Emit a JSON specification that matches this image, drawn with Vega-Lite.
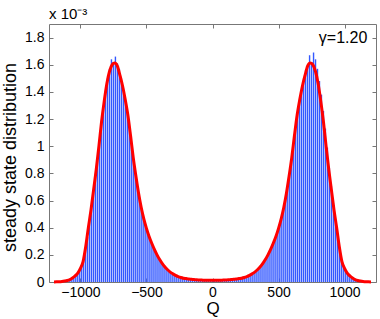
{
  "$schema": "https://vega.github.io/schema/vega-lite/v6.json",
  "width": 327,
  "height": 258,
  "autosize": "none",
  "padding": {"left": 49, "top": 24, "right": 4, "bottom": 37},
  "background": "white",
  "config": {
    "font": "Liberation Sans",
    "view": {"stroke": "#777777", "strokeWidth": 1},
    "axis": {
      "domain": false,
      "grid": false,
      "tickColor": "#777777",
      "tickSize": -4,
      "labelColor": "black",
      "labelFont": "Liberation Sans",
      "labelFontSize": 14,
      "titleFont": "Liberation Sans",
      "titleFontWeight": "normal",
      "titleColor": "black"
    }
  },
  "title": {
    "text": "x 10⁻³",
    "anchor": "start",
    "frame": "group",
    "offset": 2,
    "fontSize": 15,
    "fontWeight": "normal",
    "font": "Liberation Sans",
    "color": "black"
  },
  "datasets": {
    "bars": [
      {"q": -1110, "v": 0.000006}, {"q": -1095, "v": 0.000010}, {"q": -1080, "v": 0.000016}, {"q": -1065, "v": 0.000026},
      {"q": -1050, "v": 0.000036}, {"q": -1035, "v": 0.000050}, {"q": -1020, "v": 0.000068}, {"q": -1005, "v": 0.000090},
      {"q": -990, "v": 0.000120}, {"q": -975, "v": 0.000170}, {"q": -960, "v": 0.000250}, {"q": -945, "v": 0.000330},
      {"q": -930, "v": 0.000450}, {"q": -915, "v": 0.000570}, {"q": -900, "v": 0.000690}, {"q": -885, "v": 0.000800},
      {"q": -870, "v": 0.000920}, {"q": -855, "v": 0.001050}, {"q": -840, "v": 0.001190}, {"q": -825, "v": 0.001300},
      {"q": -810, "v": 0.001410}, {"q": -795, "v": 0.001500}, {"q": -780, "v": 0.001570}, {"q": -765, "v": 0.001640},
      {"q": -750, "v": 0.001620}, {"q": -735, "v": 0.001660}, {"q": -720, "v": 0.001610}, {"q": -705, "v": 0.001570},
      {"q": -690, "v": 0.001500}, {"q": -675, "v": 0.001430}, {"q": -660, "v": 0.001360}, {"q": -645, "v": 0.001270},
      {"q": -630, "v": 0.001160}, {"q": -615, "v": 0.001040}, {"q": -600, "v": 0.000920}, {"q": -585, "v": 0.000820},
      {"q": -570, "v": 0.000720}, {"q": -555, "v": 0.000630}, {"q": -540, "v": 0.000550}, {"q": -525, "v": 0.000485},
      {"q": -510, "v": 0.000425}, {"q": -495, "v": 0.000375}, {"q": -480, "v": 0.000335}, {"q": -465, "v": 0.000295},
      {"q": -450, "v": 0.000260}, {"q": -435, "v": 0.000228}, {"q": -420, "v": 0.000198}, {"q": -405, "v": 0.000172},
      {"q": -390, "v": 0.000148}, {"q": -375, "v": 0.000126}, {"q": -360, "v": 0.000108}, {"q": -345, "v": 0.000092},
      {"q": -330, "v": 0.000080}, {"q": -315, "v": 0.000068}, {"q": -300, "v": 0.000058}, {"q": -285, "v": 0.000050},
      {"q": -270, "v": 0.000043}, {"q": -255, "v": 0.000037}, {"q": -240, "v": 0.000032}, {"q": -225, "v": 0.000028},
      {"q": -210, "v": 0.000025}, {"q": -195, "v": 0.000023}, {"q": -180, "v": 0.000021}, {"q": -165, "v": 0.000019},
      {"q": -150, "v": 0.000017}, {"q": -135, "v": 0.000016}, {"q": -120, "v": 0.000014}, {"q": -105, "v": 0.000012},
      {"q": -90, "v": 0.000011}, {"q": -75, "v": 0.000010}, {"q": -60, "v": 0.000009}, {"q": -45, "v": 0.000008},
      {"q": -30, "v": 0.000008}, {"q": -15, "v": 0.000007}, {"q": 0, "v": 0.000007},
      {"q": 15, "v": 0.000007}, {"q": 30, "v": 0.000008}, {"q": 45, "v": 0.000008}, {"q": 60, "v": 0.000009},
      {"q": 75, "v": 0.000010}, {"q": 90, "v": 0.000011}, {"q": 105, "v": 0.000012}, {"q": 120, "v": 0.000014},
      {"q": 135, "v": 0.000016}, {"q": 150, "v": 0.000017}, {"q": 165, "v": 0.000019}, {"q": 180, "v": 0.000021},
      {"q": 195, "v": 0.000023}, {"q": 210, "v": 0.000025}, {"q": 225, "v": 0.000028}, {"q": 240, "v": 0.000032},
      {"q": 255, "v": 0.000037}, {"q": 270, "v": 0.000043}, {"q": 285, "v": 0.000050}, {"q": 300, "v": 0.000058},
      {"q": 315, "v": 0.000068}, {"q": 330, "v": 0.000080}, {"q": 345, "v": 0.000092}, {"q": 360, "v": 0.000108},
      {"q": 375, "v": 0.000126}, {"q": 390, "v": 0.000148}, {"q": 405, "v": 0.000172}, {"q": 420, "v": 0.000198},
      {"q": 435, "v": 0.000228}, {"q": 450, "v": 0.000260}, {"q": 465, "v": 0.000295}, {"q": 480, "v": 0.000335},
      {"q": 495, "v": 0.000375}, {"q": 510, "v": 0.000425}, {"q": 525, "v": 0.000485}, {"q": 540, "v": 0.000550},
      {"q": 555, "v": 0.000630}, {"q": 570, "v": 0.000720}, {"q": 585, "v": 0.000810}, {"q": 600, "v": 0.000910},
      {"q": 615, "v": 0.001030}, {"q": 630, "v": 0.001150}, {"q": 645, "v": 0.001270}, {"q": 660, "v": 0.001350},
      {"q": 675, "v": 0.001430}, {"q": 690, "v": 0.001500}, {"q": 705, "v": 0.001560}, {"q": 720, "v": 0.001600},
      {"q": 735, "v": 0.001670}, {"q": 750, "v": 0.001620}, {"q": 765, "v": 0.001690}, {"q": 780, "v": 0.001640},
      {"q": 795, "v": 0.001570}, {"q": 810, "v": 0.001480}, {"q": 825, "v": 0.001380}, {"q": 840, "v": 0.001260},
      {"q": 855, "v": 0.001130}, {"q": 870, "v": 0.000990}, {"q": 885, "v": 0.000840}, {"q": 900, "v": 0.000710},
      {"q": 915, "v": 0.000580}, {"q": 930, "v": 0.000460}, {"q": 945, "v": 0.000350}, {"q": 960, "v": 0.000260},
      {"q": 975, "v": 0.000170}, {"q": 990, "v": 0.000120}, {"q": 1005, "v": 0.000090}, {"q": 1020, "v": 0.000066},
      {"q": 1035, "v": 0.000050}, {"q": 1050, "v": 0.000036}, {"q": 1065, "v": 0.000026}, {"q": 1080, "v": 0.000016},
      {"q": 1095, "v": 0.000010}, {"q": 1110, "v": 0.000006}
    ],
    "curve": [
      {"q": -1200, "v": 0.0000005}, {"q": -1180, "v": 0.000001}, {"q": -1160, "v": 0.000002}, {"q": -1140, "v": 0.000004},
      {"q": -1120, "v": 0.000007}, {"q": -1100, "v": 0.000011}, {"q": -1080, "v": 0.000018}, {"q": -1060, "v": 0.000030},
      {"q": -1040, "v": 0.000045}, {"q": -1020, "v": 0.000065}, {"q": -1000, "v": 0.000100}, {"q": -980, "v": 0.000150},
      {"q": -960, "v": 0.000260}, {"q": -940, "v": 0.000400}, {"q": -920, "v": 0.000530}, {"q": -900, "v": 0.000680},
      {"q": -880, "v": 0.000830}, {"q": -860, "v": 0.001000}, {"q": -840, "v": 0.001180}, {"q": -820, "v": 0.001330},
      {"q": -800, "v": 0.001460}, {"q": -780, "v": 0.001550}, {"q": -760, "v": 0.001600}, {"q": -740, "v": 0.001613},
      {"q": -720, "v": 0.001590}, {"q": -700, "v": 0.001520}, {"q": -680, "v": 0.001440}, {"q": -660, "v": 0.001340},
      {"q": -640, "v": 0.001225}, {"q": -620, "v": 0.001075}, {"q": -600, "v": 0.000915}, {"q": -580, "v": 0.000780},
      {"q": -560, "v": 0.000655}, {"q": -540, "v": 0.000550}, {"q": -520, "v": 0.000465}, {"q": -500, "v": 0.000395},
      {"q": -480, "v": 0.000335}, {"q": -460, "v": 0.000285}, {"q": -440, "v": 0.000240}, {"q": -420, "v": 0.000200},
      {"q": -400, "v": 0.000165}, {"q": -380, "v": 0.000135}, {"q": -360, "v": 0.000110}, {"q": -340, "v": 0.000090},
      {"q": -320, "v": 0.000073}, {"q": -300, "v": 0.000060}, {"q": -280, "v": 0.000049}, {"q": -260, "v": 0.000040},
      {"q": -240, "v": 0.000033}, {"q": -220, "v": 0.000028}, {"q": -200, "v": 0.000025}, {"q": -180, "v": 0.000022},
      {"q": -160, "v": 0.000020}, {"q": -140, "v": 0.000018}, {"q": -120, "v": 0.000016}, {"q": -100, "v": 0.000015},
      {"q": -80, "v": 0.000014}, {"q": -60, "v": 0.000013}, {"q": -40, "v": 0.000013}, {"q": -20, "v": 0.000012},
      {"q": 0, "v": 0.000012},
      {"q": 20, "v": 0.000012}, {"q": 40, "v": 0.000013}, {"q": 60, "v": 0.000013}, {"q": 80, "v": 0.000014},
      {"q": 100, "v": 0.000015}, {"q": 120, "v": 0.000016}, {"q": 140, "v": 0.000018}, {"q": 160, "v": 0.000020},
      {"q": 180, "v": 0.000022}, {"q": 200, "v": 0.000025}, {"q": 220, "v": 0.000028}, {"q": 240, "v": 0.000033},
      {"q": 260, "v": 0.000040}, {"q": 280, "v": 0.000049}, {"q": 300, "v": 0.000060}, {"q": 320, "v": 0.000073},
      {"q": 340, "v": 0.000090}, {"q": 360, "v": 0.000110}, {"q": 380, "v": 0.000135}, {"q": 400, "v": 0.000165},
      {"q": 420, "v": 0.000200}, {"q": 440, "v": 0.000240}, {"q": 460, "v": 0.000285}, {"q": 480, "v": 0.000335},
      {"q": 500, "v": 0.000395}, {"q": 520, "v": 0.000465}, {"q": 540, "v": 0.000550}, {"q": 560, "v": 0.000655},
      {"q": 580, "v": 0.000780}, {"q": 600, "v": 0.000915}, {"q": 620, "v": 0.001075}, {"q": 640, "v": 0.001225},
      {"q": 660, "v": 0.001340}, {"q": 680, "v": 0.001440}, {"q": 700, "v": 0.001520}, {"q": 720, "v": 0.001590},
      {"q": 740, "v": 0.001613}, {"q": 760, "v": 0.001600}, {"q": 780, "v": 0.001550}, {"q": 800, "v": 0.001460},
      {"q": 820, "v": 0.001330}, {"q": 840, "v": 0.001180}, {"q": 860, "v": 0.001000}, {"q": 880, "v": 0.000830},
      {"q": 900, "v": 0.000680}, {"q": 920, "v": 0.000530}, {"q": 940, "v": 0.000400}, {"q": 960, "v": 0.000260},
      {"q": 980, "v": 0.000150}, {"q": 1000, "v": 0.000100}, {"q": 1020, "v": 0.000065}, {"q": 1040, "v": 0.000045},
      {"q": 1060, "v": 0.000030}, {"q": 1080, "v": 0.000018}, {"q": 1100, "v": 0.000011}, {"q": 1120, "v": 0.000007},
      {"q": 1140, "v": 0.000004}, {"q": 1160, "v": 0.000002}, {"q": 1180, "v": 0.000001}, {"q": 1200, "v": 0.0000005}
    ],
    "label": [{"q": 1172, "v": 0.0018, "t": "γ=1.20"}]
  },
  "layer": [
    {
      "data": {"name": "bars"},
      "mark": {"type": "bar", "width": 1.4, "color": "#3358ff"},
      "encoding": {
        "x": {
          "field": "q", "type": "quantitative",
          "scale": {"domain": [-1200, 1200], "nice": false, "zero": false},
          "axis": {"orient": "bottom", "values": [-1000, -500, 0, 500, 1000], "format": "d", "title": "Q", "titleFontSize": 17, "labelPadding": 7, "titlePadding": 1}
        },
        "y": {
          "field": "v", "type": "quantitative",
          "scale": {"domain": [0, 0.0019], "nice": false},
          "axis": {"orient": "left", "values": [0, 0.0002, 0.0004, 0.0006, 0.0008, 0.001, 0.0012, 0.0014, 0.0016, 0.0018],
                   "labelExpr": "format(datum.value * 1000, '.1~f')", "title": "steady state distribution", "titleFontSize": 18, "labelPadding": 9, "titlePadding": 5, "titleY": 133}
        }
      }
    },
    {
      "data": {"name": "curve"},
      "mark": {"type": "line", "color": "#ff0000", "strokeWidth": 3, "interpolate": "monotone"},
      "encoding": {
        "x": {"field": "q", "type": "quantitative", "axis": {"orient": "top", "values": [-1000, -500, 0, 500, 1000], "labels": false, "title": null}},
        "y": {"field": "v", "type": "quantitative", "axis": {"orient": "right", "values": [0, 0.0002, 0.0004, 0.0006, 0.0008, 0.001, 0.0012, 0.0014, 0.0016, 0.0018], "labels": false, "title": null}}
      }
    },
    {
      "data": {"name": "label"},
      "mark": {"type": "text", "align": "right", "baseline": "middle", "fontSize": 16, "font": "Liberation Sans", "color": "black"},
      "encoding": {
        "x": {"field": "q", "type": "quantitative", "axis": null},
        "y": {"field": "v", "type": "quantitative", "axis": null},
        "text": {"field": "t"}
      }
    }
  ],
  "resolve": {"axis": {"x": "independent", "y": "independent"}}
}
